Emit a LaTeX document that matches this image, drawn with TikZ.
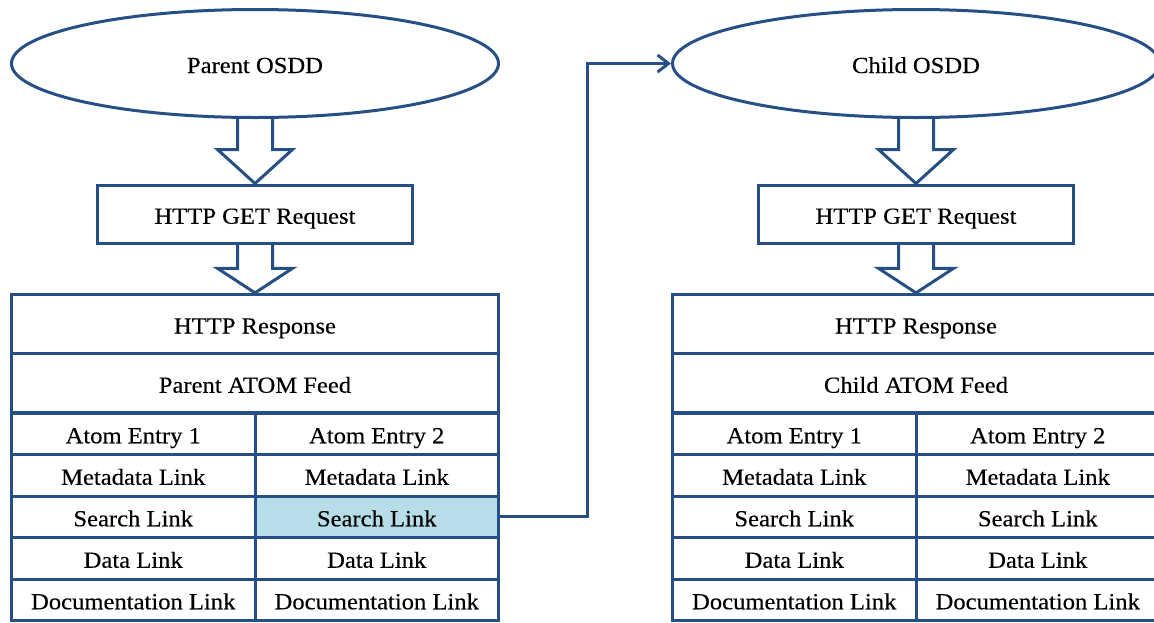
\documentclass[tikz,border=0pt]{standalone}
\usepackage{fontspec}
\setmainfont{Liberation Serif}[FakeStretch=1.07,FakeBold=0.3]
\usetikzlibrary{shapes.geometric,calc,arrows.meta}
\definecolor{lineblue}{RGB}{38,79,133}
\definecolor{hilite}{RGB}{183,221,232}
\tikzset{
  txt/.style={font=\fontsize{23}{27}\selectfont, text=black, text height=21pt, text depth=2pt},
  oval/.style={ellipse, draw=lineblue, line width=3pt, fill=white, minimum width=487pt, minimum height=108pt, inner sep=0pt, txt},
  box/.style={rectangle, draw=lineblue, line width=3pt, fill=white, inner sep=0pt, txt},
  getbox/.style={box, minimum width=315pt, minimum height=58.5pt},
  wide/.style={box, minimum width=487pt, minimum height=59.3pt},
  cell/.style={box, minimum width=243.5pt, minimum height=41.5pt},
  blockarrow/.style={draw=lineblue, line width=3pt, line join=miter},
  conn/.style={draw=lineblue, line width=3pt, -{Straight Barb[length=11pt,width=17pt]}}
}
\begin{document}
\begin{tikzpicture}[x=1pt,y=-1pt]
\useasboundingbox (0,0) rectangle (1154,622);
% ---------- left column ----------
\node[oval] (po) at (255,63.5) {Parent OSDD};
\node[getbox] (g1) at (255,214.25) {HTTP GET Request};
\node[wide] (lr) at (255,324) {HTTP Response};
\node[wide] (lf) at (255,383.25) {Parent ATOM Feed};
\node[cell] (la1) at (133.25,433.75) {Atom Entry 1};
\node[cell] (la2) at (376.75,433.75) {Atom Entry 2};
\node[cell] (lm1) at (133.25,475.25) {Metadata Link};
\node[cell] (lm2) at (376.75,475.25) {Metadata Link};
\node[cell] (ls1) at (133.25,516.75) {Search Link};
\node[cell, fill=hilite] (ls2) at (376.75,516.75) {Search Link};
\node[cell] (ld1) at (133.25,558.25) {Data Link};
\node[cell] (ld2) at (376.75,558.25) {Data Link};
\node[cell] (lc1) at (133.25,599.75) {Documentation Link};
\node[cell] (lc2) at (376.75,599.75) {Documentation Link};
% ---------- right column ----------
\node[oval] (co) at (916,63.5) {Child OSDD};
\node[getbox] (g2) at (916,214.25) {HTTP GET Request};
\node[wide] (rr) at (916,324) {HTTP Response};
\node[wide] (rf) at (916,383.25) {Child ATOM Feed};
\node[cell] (ra1) at (794.25,433.75) {Atom Entry 1};
\node[cell] (ra2) at (1037.75,433.75) {Atom Entry 2};
\node[cell] (rm1) at (794.25,475.25) {Metadata Link};
\node[cell] (rm2) at (1037.75,475.25) {Metadata Link};
\node[cell] (rs1) at (794.25,516.75) {Search Link};
\node[cell] (rs2) at (1037.75,516.75) {Search Link};
\node[cell] (rd1) at (794.25,558.25) {Data Link};
\node[cell] (rd2) at (1037.75,558.25) {Data Link};
\node[cell] (rc1) at (794.25,599.75) {Documentation Link};
\node[cell] (rc2) at (1037.75,599.75) {Documentation Link};
% ---------- block arrows ----------
\foreach \a/\b in {po/g1, co/g2}{
  \draw[blockarrow] ($(\a.south)+(-17.5,0)$) -- ($(\b.north)+(-17.5,-34)$) -- ($(\b.north)+(-37.5,-34)$)
    -- (\b.north) -- ($(\b.north)+(37.5,-34)$) -- ($(\b.north)+(17.5,-34)$) -- ($(\a.south)+(17.5,0)$);
}
\foreach \a/\b in {g1/lr, g2/rr}{
  \draw[blockarrow] ($(\a.south)+(-17.5,0)$) -- ($(\b.north)+(-17.5,-24.5)$) -- ($(\b.north)+(-37.5,-24.5)$)
    -- (\b.north) -- ($(\b.north)+(37.5,-24.5)$) -- ($(\b.north)+(17.5,-24.5)$) -- ($(\a.south)+(17.5,0)$);
}
% ---------- connector ----------
\draw[conn] (ls2.east) -- ++(87.5,0) |- (co.west);
\end{tikzpicture}
\end{document}
